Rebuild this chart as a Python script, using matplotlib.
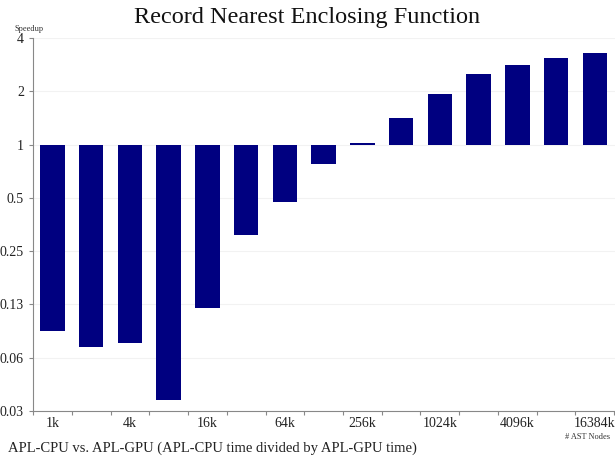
import matplotlib
matplotlib.use("Agg")
import matplotlib.pyplot as plt
import numpy as np

plt.rcParams['font.family'] = ['Liberation Serif', 'DejaVu Serif']

# AST node counts and APL-CPU / APL-GPU speedup
sizes = ['1k', '2k', '4k', '8k', '16k', '32k', '64k', '128k', '256k',
         '512k', '1024k', '2048k', '4096k', '8192k', '16384k']
speedup = [0.089, 0.072, 0.076, 0.036, 0.119, 0.31, 0.476, 0.78, 1.02,
           1.42, 1.94, 2.52, 2.83, 3.1, 3.3]
ytick_vals = [0.03125, 0.0625, 0.125, 0.25, 0.5, 1, 2, 4]
ytick_labels = ['0.03', '0.06', '0.13', '0.25', '0.5', '1', '2', '4']

fig = plt.figure(figsize=(6.15, 4.61), dpi=100)
ax = fig.add_axes([0.0537, 0.1085, 0.9463, 0.8091])

x = np.arange(len(sizes))
vals = np.array(speedup)
ax.bar(x, vals - 1, bottom=1, width=0.63, color='#000080', edgecolor='none', zorder=3)

ax.set_yscale('log', base=2)
ax.set_ylim(0.03125, 4)
ax.set_yticks(ytick_vals)
ax.set_yticklabels(ytick_labels)
ax.minorticks_off()
ax.set_xlim(-0.47, 14.52)

# ticks sit on category boundaries, labels on every other bar
ax.set_xticks(np.arange(len(sizes) + 1) - 0.5)
ax.set_xticklabels([])
for i in range(0, len(sizes), 2):
    ax.text(x[i], 0.0288, sizes[i], ha='center', va='top', fontsize=10,
            color='#222222')

ax.grid(axis='y', color='#f2f2f2', linewidth=0.8, zorder=0)
for s in ['top', 'right']:
    ax.spines[s].set_visible(False)
for s in ['left', 'bottom']:
    ax.spines[s].set_color('#888888')
ax.tick_params(axis='both', length=3, color='#888888', labelsize=10, labelcolor='#222222')

fig.text(0.5, 0.962, 'Record Nearest Enclosing Function', ha='center', va='center',
         fontsize=17.5, color='#111111')
fig.text(0.048, 0.938, 'Speedup', ha='center', va='center', fontsize=6, color='#333333')
fig.text(0.955, 0.052, '# AST Nodes', ha='center', va='center', fontsize=6, color='#333333')
fig.text(0.013, 0.028, 'APL-CPU vs. APL-GPU (APL-CPU time divided by APL-GPU time)',
         ha='left', va='center', fontsize=10.5, color='#222222')

fig.savefig('out.png', dpi=100)
